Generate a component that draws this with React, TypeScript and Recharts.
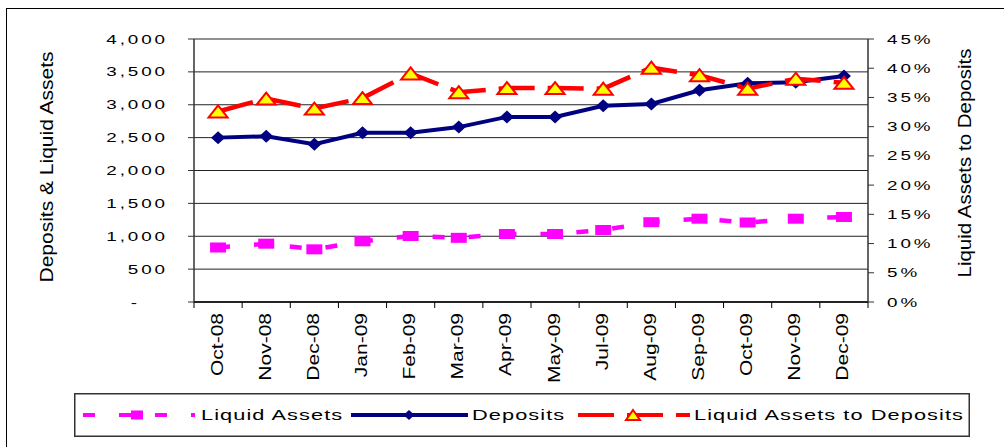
import { ComposedChart, Line, XAxis, YAxis, CartesianGrid, Legend } from 'recharts'

const months = ['Oct-08', 'Nov-08', 'Dec-08', 'Jan-09', 'Feb-09', 'Mar-09', 'Apr-09', 'May-09', 'Jul-09', 'Aug-09', 'Sep-09', 'Oct-09', 'Nov-09', 'Dec-09']
const liquidAssets = [829, 887, 801, 923, 1004, 976, 1034, 1034, 1095, 1214, 1267, 1209, 1267, 1293]
const deposits = [2500, 2520, 2400, 2575, 2575, 2660, 2815, 2815, 2985, 3011, 3220, 3326, 3341, 3437]
const liquidToDeposits = [32.6, 34.8, 33.1, 34.9, 39.1, 35.9, 36.6, 36.6, 36.5, 40.1, 38.8, 36.5, 38.2, 37.5]
const leftTicks = [0, 500, 1000, 1500, 2000, 2500, 3000, 3500, 4000]
const rightTicks = [0, 5, 10, 15, 20, 25, 30, 35, 40, 45]

const data = months.map((month, i) => ({
  month,
  liquid: liquidAssets[i],
  deposits: deposits[i],
  ratio: liquidToDeposits[i],
}))

const FONT = '"Liberation Sans", Arial, sans-serif'
const COLORS = {
  liquid: '#ff00ff',
  deposits: '#000080',
  ratio: '#ff0000',
  marker: '#ffff00',
}

function Square({ cx, cy, w = 16, h = 10 }: any) {
  return <rect x={cx - w / 2} y={cy - h / 2} width={w} height={h} fill={COLORS.liquid} />
}

function Diamond({ cx, cy, w = 14, h = 13 }: any) {
  return (
    <polygon
      points={`${cx},${cy - h / 2} ${cx + w / 2},${cy} ${cx},${cy + h / 2} ${cx - w / 2},${cy}`}
      fill={COLORS.deposits}
    />
  )
}

function Triangle({ cx, cy, w = 19, h = 12 }: any) {
  return (
    <polygon
      points={`${cx},${cy - h / 2} ${cx + w / 2},${cy + h / 2} ${cx - w / 2},${cy + h / 2}`}
      fill={COLORS.marker}
      stroke={COLORS.ratio}
      strokeWidth={2}
    />
  )
}

function LeftTick({ x, y, payload }: any) {
  const v = payload.value
  const label = v === 0 ? '-' : v.toLocaleString('en-US')
  const ax = v === 0 ? x - 48 : x - 20
  return (
    <g transform={`translate(${ax},${y + 4.5}) scale(1.45,1)`}>
      <text textAnchor="end" fontSize={13} letterSpacing={2} fontFamily={FONT} fill="#000">
        {label}
      </text>
    </g>
  )
}

function RightTick({ x, y, payload }: any) {
  return (
    <g transform={`translate(${x + 13},${y + 4.5}) scale(1.45,1)`}>
      <text textAnchor="start" fontSize={13} letterSpacing={2} fontFamily={FONT} fill="#000">
        {`${payload.value}%`}
      </text>
    </g>
  )
}

function MonthTick({ x, y, payload }: any) {
  const half = payload.offset || 24.07
  const last = payload.value === months[months.length - 1]
  return (
    <g>
      <line x1={x - half} x2={x - half} y1={y} y2={y + 6} stroke="#000" strokeWidth={1} />
      {last && <line x1={x + half} x2={x + half} y1={y} y2={y + 6} stroke="#000" strokeWidth={1} />}
      <text
        transform={`translate(${x + 4.5},${y + 11}) rotate(-90) scale(1,0.75)`}
        textAnchor="end"
        fontSize={21}
        fontFamily={FONT}
        fill="#000"
      >
        {payload.value}
      </text>
    </g>
  )
}

function AxisTitle({ px, py, text, size }: any) {
  return (
    <text
      transform={`translate(${px},${py}) rotate(-90) scale(1,0.9)`}
      textAnchor="middle"
      fontSize={size}
      fontFamily={FONT}
      fill="#000"
    >
      {text}
    </text>
  )
}

function LegendText({ x, text }: any) {
  return (
    <g transform={`translate(${x},27) scale(1.45,1)`}>
      <text fontSize={15} letterSpacing={0.75} fontFamily={FONT} fill="#000">
        {text}
      </text>
    </g>
  )
}

function LegendBox() {
  return (
    <svg width={896} height={44} style={{ display: 'block', overflow: 'visible' }}>
      <rect x={0.75} y={0.75} width={894.5} height={42.5} fill="#fff" stroke="#333" strokeWidth={1.5} />
      <line x1={9} x2={121} y1={22} y2={22} stroke={COLORS.liquid} strokeWidth={4} strokeDasharray="12 24" />
      <Square cx={63} cy={22} w={12} h={9} />
      <LegendText x={127} text="Liquid Assets" />
      <line x1={277} x2={394} y1={22} y2={22} stroke={COLORS.deposits} strokeWidth={4} />
      <Diamond cx={335} cy={22} w={11} h={10} />
      <LegendText x={398} text="Deposits" />
      <line x1={504} x2={616} y1={22} y2={22} stroke={COLORS.ratio} strokeWidth={4} strokeDasharray="36 13" />
      <Triangle cx={559} cy={22} w={14} h={10} />
      <LegendText x={620} text="Liquid Assets to Deposits" />
    </svg>
  )
}

export default function App() {
  return (
    <div style={{ position: 'absolute', left: 0, top: 0, width: 1004, height: 447, overflow: 'hidden', background: '#fff' }}>
      <div
        style={{
          position: 'absolute',
          left: 6,
          top: 8,
          width: 1004,
          height: 447,
          borderLeft: '1px solid #000',
          borderTop: '1px solid #000',
        }}
      />
      <ComposedChart width={1004} height={447} data={data} margin={{ top: 39, right: 0, bottom: 0, left: 0 }}>
        <CartesianGrid yAxisId="left" vertical={false} stroke="#222" strokeWidth={1} />
        <XAxis
          dataKey="month"
          scale="band"
          interval={0}
          height={101}
          tickSize={0}
          tickMargin={0}
          tickLine={false}
          tick={<MonthTick />}
          axisLine={{ stroke: '#000', strokeWidth: 1.5 }}
        />
        <YAxis
          yAxisId="left"
          orientation="left"
          width={194}
          domain={[0, 4000]}
          ticks={leftTicks}
          interval={0}
          tickSize={6}
          tickMargin={0}
          tick={<LeftTick />}
          tickLine={{ stroke: '#333' }}
          axisLine={{ stroke: '#333', strokeWidth: 1.5 }}
          label={<AxisTitle px={53} py={167} size={21} text="Deposits & Liquid Assets" />}
        />
        <YAxis
          yAxisId="right"
          orientation="right"
          width={136}
          domain={[0, 45]}
          ticks={rightTicks}
          interval={0}
          tickSize={6}
          tickMargin={0}
          tick={<RightTick />}
          tickLine={{ stroke: '#333' }}
          axisLine={{ stroke: '#333', strokeWidth: 1.5 }}
          label={<AxisTitle px={971} py={163} size={20.5} text="Liquid Assets to Deposits" />}
        />
        <Legend
          verticalAlign="bottom"
          content={() => <LegendBox />}
          wrapperStyle={{ left: 74, bottom: 10, width: 896, height: 44 }}
        />
        <Line
          yAxisId="left"
          dataKey="liquid"
          name="Liquid Assets"
          stroke={COLORS.liquid}
          strokeWidth={4.5}
          strokeDasharray="12 24"
          dot={(p: any) => <Square key={`sq-${p.index}`} cx={p.cx} cy={p.cy} />}
          activeDot={false}
          isAnimationActive={false}
        />
        <Line
          yAxisId="left"
          dataKey="deposits"
          name="Deposits"
          stroke={COLORS.deposits}
          strokeWidth={4}
          dot={(p: any) => <Diamond key={`dm-${p.index}`} cx={p.cx} cy={p.cy} />}
          activeDot={false}
          isAnimationActive={false}
        />
        <Line
          yAxisId="right"
          dataKey="ratio"
          name="Liquid Assets to Deposits"
          stroke={COLORS.ratio}
          strokeWidth={4.5}
          strokeDasharray="36 13"
          dot={(p: any) => <Triangle key={`tr-${p.index}`} cx={p.cx} cy={p.cy} />}
          activeDot={false}
          isAnimationActive={false}
        />
      </ComposedChart>
    </div>
  )
}
